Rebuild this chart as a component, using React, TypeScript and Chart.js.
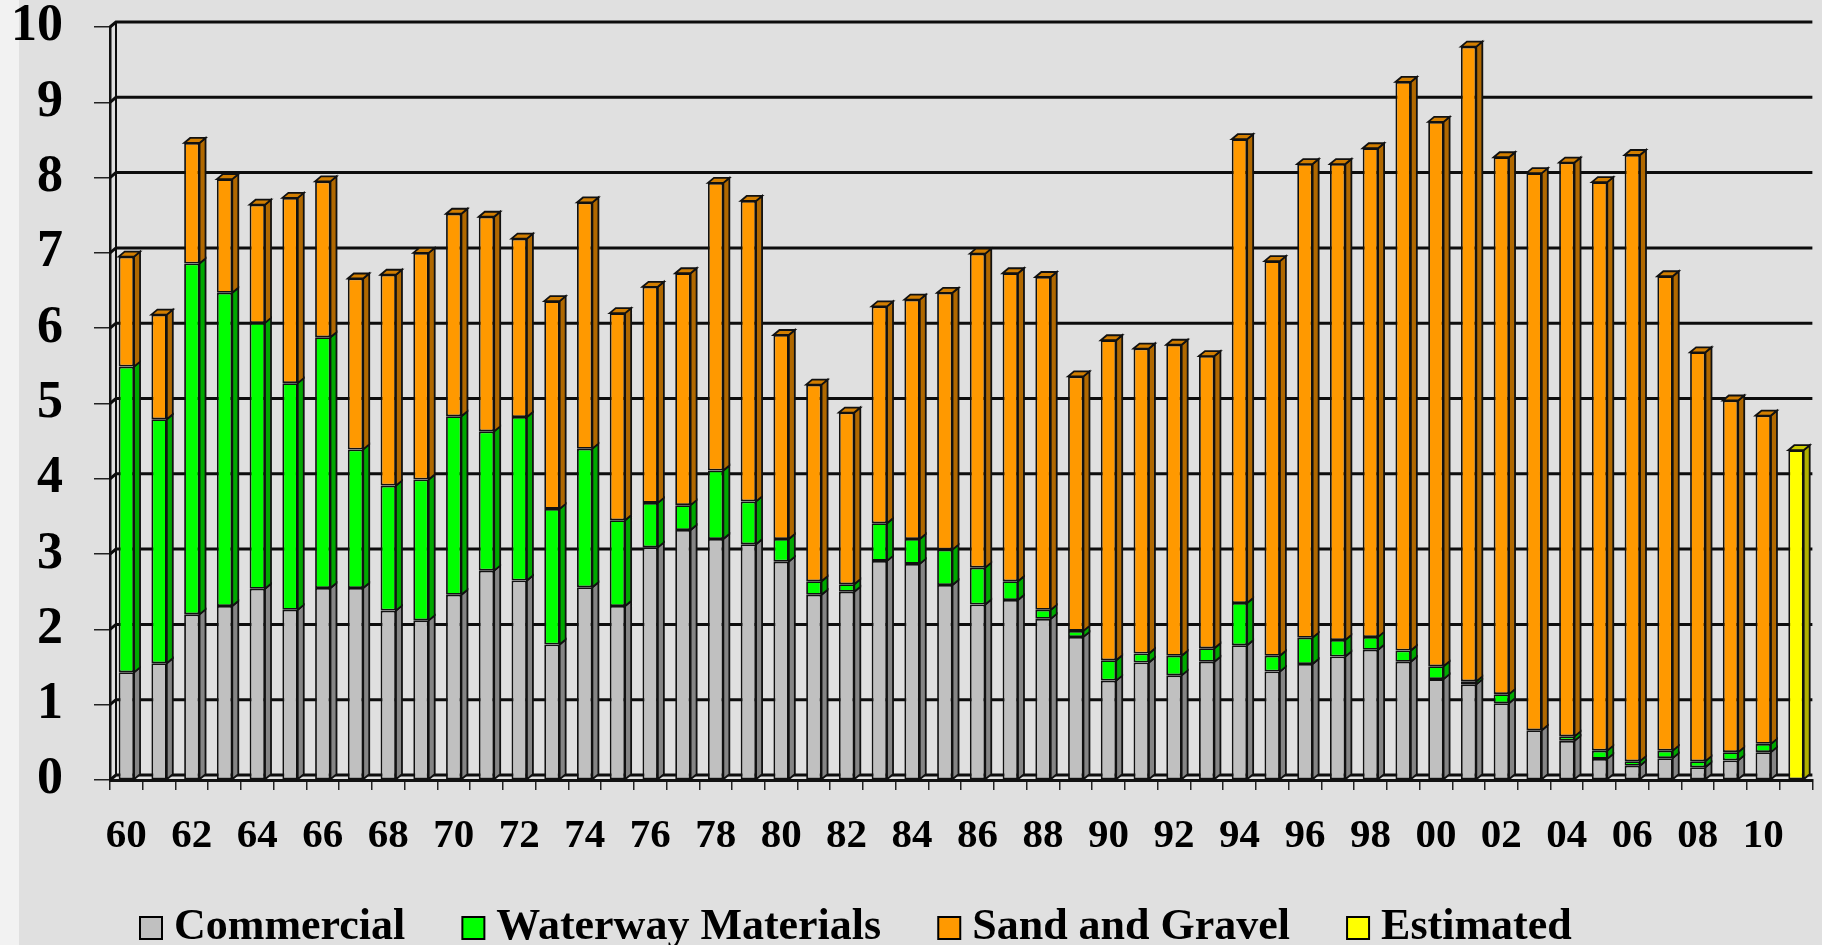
import React, { useEffect, useRef } from 'react';
import { Chart, registerables } from 'chart.js';

Chart.register(...registerables);

// ---- data (million tons) ----
const years = [
  '60', '61', '62', '63', '64', '65', '66', '67', '68', '69',
  '70', '71', '72', '73', '74', '75', '76', '77', '78', '79',
  '80', '81', '82', '83', '84', '85', '86', '87', '88', '89',
  '90', '91', '92', '93', '94', '95', '96', '97', '98', '99',
  '00', '01', '02', '03', '04', '05', '06', '07', '08', '09',
  '10', '11',
];

const shownTickLabels = [
  '60', '62', '64', '66', '68', '70', '72', '74', '76', '78', '80', '82', '84',
  '86', '88', '90', '92', '94', '96', '98', '00', '02', '04', '06', '08', '10',
];

const commercial = [
  1.43, 1.55, 2.20, 2.31, 2.54, 2.26, 2.55, 2.55, 2.25, 2.12,
  2.46, 2.78, 2.65, 1.80, 2.56, 2.31, 3.09, 3.32, 3.20, 3.13,
  2.90, 2.46, 2.50, 2.91, 2.87, 2.59, 2.33, 2.39, 2.14, 1.90,
  1.32, 1.56, 1.39, 1.57, 1.79, 1.44, 1.54, 1.64, 1.73, 1.57,
  1.34, 1.27, 1.02, 0.66, 0.52, 0.28, 0.19, 0.29, 0.17, 0.26,
  0.37, null,
];

const waterwayMaterials = [
  4.06, 3.24, 4.66, 4.16, 3.53, 3.01, 3.33, 1.84, 1.66, 1.87,
  2.37, 1.85, 2.17, 1.80, 1.84, 1.14, 0.59, 0.33, 0.91, 0.57,
  0.30, 0.18, 0.10, 0.50, 0.33, 0.47, 0.49, 0.25, 0.12, 0.08,
  0.27, 0.12, 0.26, 0.18, 0.56, 0.21, 0.35, 0.22, 0.17, 0.15,
  0.17, 0.04, 0.12, 0.00, 0.06, 0.11, 0.06, 0.10, 0.08, 0.11,
  0.11, null,
];

const sandAndGravel = [
  1.46, 1.39, 1.60, 1.51, 1.57, 2.46, 2.07, 2.27, 2.80, 3.01,
  2.69, 2.85, 2.37, 2.76, 3.27, 2.75, 2.87, 3.08, 3.82, 3.99,
  2.71, 2.61, 2.28, 2.88, 3.18, 3.41, 4.17, 4.09, 4.42, 3.38,
  4.25, 4.05, 4.13, 3.88, 6.16, 5.24, 6.29, 6.32, 6.49, 7.55,
  7.23, 8.43, 7.13, 7.40, 7.62, 7.55, 8.05, 6.30, 5.43, 4.67,
  4.36, null,
];

const estimated = [
  null, null, null, null, null, null, null, null, null, null,
  null, null, null, null, null, null, null, null, null, null,
  null, null, null, null, null, null, null, null, null, null,
  null, null, null, null, null, null, null, null, null, null,
  null, null, null, null, null, null, null, null, null, null,
  null, 4.38,
];

const seriesNames = ['Commercial', 'Waterway Materials', 'Sand and Gravel', 'Estimated'];

// ---- styles ----
const FONT = "'Liberation Serif', 'Times New Roman', serif";
const frontColors = ['#c0c0c0', '#00ff00', '#ff9900', '#ffff00'];
const sideColors = ['#858585', '#00a800', '#b06800', '#b0b000'];
const topColors = ['#a0a0a0', '#00cc00', '#d27e00', '#cccc00'];
const EDGE = '#111111';
const DX = 6;
const DY = 5;
const LEGEND_PW = 69;
const LEGEND_LEFT = 83;

const wallPlugin = {
  id: 'wall3d',
  afterLayout(chart: any) {
    // shift the legend row so it starts under the plot, as in the original slide
    if (chart.legend) {
      chart.legend.left = LEGEND_LEFT;
    }
  },
  beforeDatasetsDraw(chart: any) {
    const { ctx, chartArea: a } = chart;
    const y = chart.scales.y;
    ctx.save();
    ctx.strokeStyle = '#0d0d0d';
    ctx.lineWidth = 3;
    y.ticks.forEach((t: any) => {
      const py = y.getPixelForValue(t.value);
      ctx.beginPath();
      ctx.moveTo(a.left, py);
      ctx.lineTo(a.left + DX, py - DY);
      ctx.lineTo(a.right, py - DY);
      ctx.stroke();
    });
    ctx.lineWidth = 2;
    ctx.beginPath();
    ctx.moveTo(a.left + DX, y.getPixelForValue(y.min) - DY);
    ctx.lineTo(a.left + DX, y.getPixelForValue(y.max) - DY);
    ctx.stroke();
    ctx.restore();
  },
};

const bars3dPlugin = {
  id: 'bars3d',
  afterDatasetsDraw(chart: any) {
    const { ctx } = chart;
    const metas = chart.getSortedVisibleDatasetMetas();
    const n = chart.data.labels.length;
    ctx.save();
    ctx.lineWidth = 1.8;
    ctx.strokeStyle = EDGE;
    for (let i = 0; i < n; i++) {
      let topEl: any = null;
      let topIdx = -1;
      metas.forEach((meta: any) => {
        const v = chart.data.datasets[meta.index].data[i];
        if (v == null || v <= 0) return;
        const el = meta.data[i];
        const r = el.x + el.width / 2;
        ctx.fillStyle = sideColors[meta.index];
        ctx.beginPath();
        ctx.moveTo(r, el.y);
        ctx.lineTo(r + DX, el.y - DY);
        ctx.lineTo(r + DX, el.base - DY);
        ctx.lineTo(r, el.base);
        ctx.closePath();
        ctx.fill();
        ctx.stroke();
        if (!topEl || el.y < topEl.y) {
          topEl = el;
          topIdx = meta.index;
        }
      });
      if (topEl) {
        const l = topEl.x - topEl.width / 2;
        const r = topEl.x + topEl.width / 2;
        ctx.fillStyle = topColors[topIdx];
        ctx.beginPath();
        ctx.moveTo(l, topEl.y);
        ctx.lineTo(l + DX, topEl.y - DY);
        ctx.lineTo(r + DX, topEl.y - DY);
        ctx.lineTo(r, topEl.y);
        ctx.closePath();
        ctx.fill();
        ctx.stroke();
      }
    }
    ctx.restore();
  },
};

function makeLegendBox(fill: string) {
  const c = document.createElement('canvas');
  c.width = LEGEND_PW + 24;
  c.height = 24;
  const g = c.getContext('2d')!;
  g.fillStyle = fill;
  g.fillRect(69, 1, 22, 22);
  g.strokeStyle = '#000';
  g.lineWidth = 2;
  g.strokeRect(69, 1, 22, 22);
  return c;
}

export default function App() {
  const ref = useRef<HTMLCanvasElement | null>(null);

  useEffect(() => {
    if (!ref.current) return;
    const boxes = frontColors.map(makeLegendBox);
    const seriesData = [commercial, waterwayMaterials, sandAndGravel, estimated];
    const chart = new Chart(ref.current, {
      type: 'bar',
      data: {
        labels: years,
        datasets: seriesData.map((d, k) => ({
          label: seriesNames[k],
          data: d,
          backgroundColor: frontColors[k],
          borderColor: EDGE,
          borderWidth: 1.8,
          borderSkipped: false,
          barPercentage: 0.47,
          categoryPercentage: 1,
          stack: 'total',
        })),
      },
      options: {
        responsive: false,
        animation: false,
        layout: { padding: { left: 0, top: 27, right: 0, bottom: -5 } },
        plugins: {
          tooltip: { enabled: false },
          legend: {
            position: 'bottom',
            align: 'start',
            maxHeight: 44,
            labels: {
              usePointStyle: true,
              pointStyleWidth: LEGEND_PW,
              padding: 0,
              color: '#000',
              font: { family: FONT, size: 44, weight: 'bold' },
              generateLabels: (c: any) =>
                (Chart.defaults.plugins.legend.labels as any)
                  .generateLabels(c)
                  .map((it: any, i: number) => ({ ...it, pointStyle: boxes[i] })),
            },
          },
        },
        scales: {
          x: {
            stacked: true,
            offset: true,
            grid: {
              offset: true,
              drawOnChartArea: false,
              drawTicks: true,
              tickLength: 10,
              color: '#222',
              lineWidth: 1.5,
            },
            border: { display: true, color: '#111', width: 3 },
            ticks: {
              autoSkip: false,
              maxRotation: 0,
              minRotation: 0,
              padding: 26,
              color: '#000',
              font: { family: FONT, size: 41, weight: 'bold', lineHeight: 1 },
              callback: (_v: any, i: number) =>
                shownTickLabels.includes(years[i]) ? years[i] : '',
            },
            afterFit: (s: any) => {
              s.height = 126;
            },
          },
          y: {
            stacked: true,
            min: 0,
            max: 10,
            ticks: {
              stepSize: 1,
              padding: 31,
              color: '#000',
              font: { family: FONT, size: 52, weight: 'bold', lineHeight: 1 },
            },
            grid: {
              drawOnChartArea: false,
              drawTicks: true,
              tickLength: 16,
              color: '#222',
              lineWidth: 1.5,
            },
            border: { display: true, color: '#111', width: 2.5 },
            afterFit: (s: any) => {
              s.width = 110;
              s.paddingTop = 0;
              s.paddingBottom = 0;
            },
          },
        },
      } as any,
      plugins: [wallPlugin, bars3dPlugin],
    });
    return () => chart.destroy();
  }, []);

  return (
    <div
      style={{
        position: 'fixed',
        left: 0,
        top: 0,
        width: 1822,
        height: 945,
        overflow: 'hidden',
        background: 'linear-gradient(to right, #f2f2f2 0px, #f2f2f2 19px, #e0e0e0 19px, #e0e0e0 100%)',
      }}
    >
      <canvas ref={ref} width={1822} height={945} style={{ display: 'block', width: 1822, height: 945 }} />
    </div>
  );
}
